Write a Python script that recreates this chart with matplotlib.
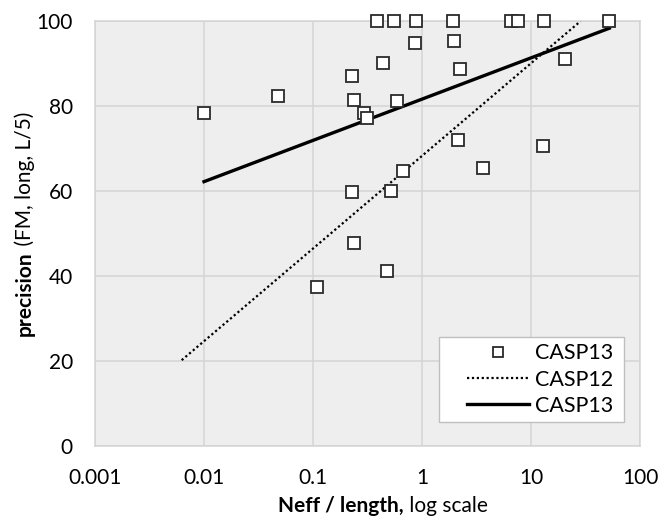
import numpy as np
import matplotlib as mplt
mplt.use("Agg")
import matplotlib.pyplot as plt
from matplotlib.patches import Rectangle

plt.rcParams["font.family"] = ["Lato", "DejaVu Sans"]

# scatter points (Neff / length, precision)
neff = [0.01, 0.048, 0.23, 0.239, 0.294, 0.311, 0.389, 0.44, 0.23, 0.239,
        0.109, 0.474, 0.55, 0.88, 1.94, 6.5, 7.65, 13.1, 52.3, 0.86,
        1.97, 2.23, 20.6, 0.59, 2.12, 12.9, 3.65, 0.675, 0.516]
precision = [78.3, 82.3, 87.1, 81.3, 78.4, 77.2, 100, 90.2, 59.7, 47.8,
             37.5, 41.2, 100, 100, 100, 100, 100, 100, 100, 94.9,
             95.2, 88.7, 91.1, 81.2, 71.9, 70.7, 65.3, 64.7, 60.0]

# trend lines (end points)
casp12_x = [0.00624, 28.6]
casp12_y = [20.2, 100]
casp13_x = [0.01, 52.3]
casp13_y = [62.2, 98.3]

x_ticks = [0.001, 0.01, 0.1, 1, 10, 100]
x_ticklabels = ["0.001", "0.01", "0.1", "1", "10", "100"]
y_ticks = [0, 20, 40, 60, 80, 100]

W, H = 661, 522
fig = plt.figure(figsize=(W / 100, H / 100), dpi=100)
ax = fig.add_axes([95 / W, 1 - 446 / H, 545 / W, 425 / H])
ax.set_facecolor("#eeeeee")

grid_color = "#d4d4d4"
ax.set_xscale("log")
ax.set_xlim(0.001, 100)
ax.set_ylim(0, 100)
ax.set_xticks(x_ticks)
ax.set_xticklabels(x_ticklabels)
ax.minorticks_off()
ax.set_yticks(y_ticks)
ax.tick_params(length=0, labelsize=15, colors="#000000")
ax.tick_params(axis="y", pad=16)
ax.tick_params(axis="x", pad=16)
ax.grid(True, color=grid_color, linewidth=1.1)
ax.set_axisbelow(True)
for s in ax.spines.values():
    s.set_color(grid_color)
    s.set_linewidth(1.1)

ax.plot(neff, precision, linestyle="none", marker="s", markersize=9,
        markerfacecolor="white", markeredgecolor="#2a2a2a",
        markeredgewidth=1.3, label="CASP13", zorder=3, clip_on=False)
ax.plot(casp12_x, casp12_y, color="black", linewidth=1.6,
        linestyle=(0, (1, 1.2)), label="CASP12", zorder=2)
ax.plot(casp13_x, casp13_y, color="black", linewidth=2.4,
        label="CASP13", zorder=2)

# legend box drawn separately so the padding matches
ax.add_patch(Rectangle((344 / 545, 24 / 425), 185 / 545, 85 / 425,
                       transform=ax.transAxes, facecolor="white",
                       edgecolor="#bfbfbf", linewidth=1.0, zorder=4))
leg = ax.legend(loc="center right", bbox_to_anchor=(518 / 545, 66.5 / 425),
                fontsize=15.5, frameon=False, handlelength=2.9,
                handletextpad=0.25, borderpad=0, labelspacing=0.3,
                numpoints=1, markerscale=0.8, borderaxespad=0)
leg.set_zorder(5)

# axis titles with a bold part
fig.canvas.draw()
r = fig.canvas.get_renderer()

def two_part(x, y, bold, regular, rotation=0):
    tb = fig.text(0, 0, bold, fontsize=15, fontweight="bold", rotation=rotation)
    tr = fig.text(0, 0, regular, fontsize=15, rotation=rotation)
    wb = tb.get_window_extent(r)
    wr = tr.get_window_extent(r)
    if rotation == 0:
        total = wb.width + wr.width
        x0 = x - total / 2
        tb.set_position((x0 / W, y / H))
        tr.set_position(((x0 + wb.width) / W, y / H))
        for t in (tb, tr):
            t.set_va("center")
    else:
        total = wb.height + wr.height
        y0 = y - total / 2
        tb.set_position((x / W, y0 / H))
        tr.set_position((x / W, (y0 + wb.height) / H))
        for t in (tb, tr):
            t.set_ha("center")

two_part(383, H - 506, "Neff / length,", " log scale")
two_part(25, H - 220, "precision", " (FM, long, L/5)", rotation=90)

fig.savefig("out.png", dpi=100)
